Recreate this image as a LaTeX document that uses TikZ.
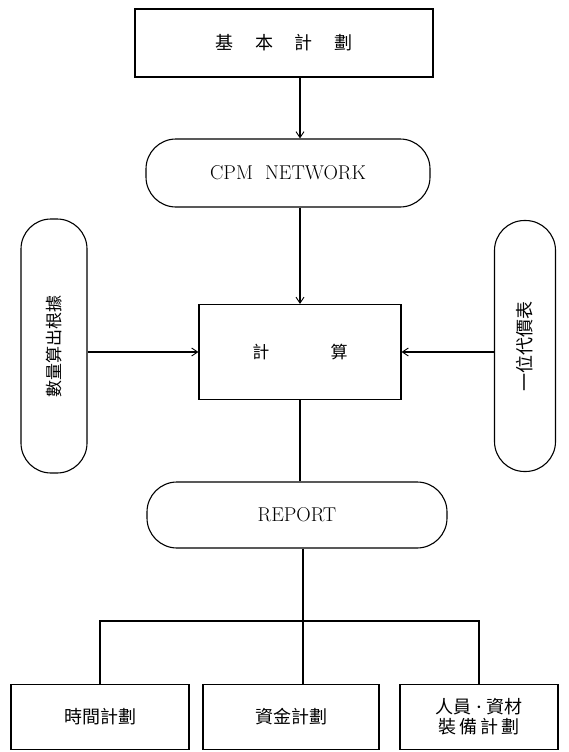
\documentclass[tikz,border=0pt]{standalone}
\usepackage{graphicx}
\usepackage{fontspec}
\newfontfamily\cjk{Noto Sans CJK TC}
\usetikzlibrary{arrows.meta}

\begin{document}
\begin{tikzpicture}[x=1pt,y=-1pt,line width=1.1pt,
    box/.style={draw,rectangle,inner sep=0pt,align=center},
    stadium/.style={draw,rectangle,rounded corners=30pt,inner sep=0pt,align=center},
    arr/.style={-{Straight Barb[length=6pt,width=8pt,line width=0.9pt]}}]
			\tikzstyle{every node}+=[font=\fontsize{18}{22}\selectfont]
			\useasboundingbox (0,0) rectangle (568,752);
			\node[box,minimum width=298pt,minimum height=68pt] (kihon) at (284,43) {\cjk 基\hspace{1.2em}本\hspace{1.2em}計\hspace{1.2em}劃};
			\node[stadium,minimum width=284pt,minimum height=68pt] (cpm) at (288,173) {\fontsize{20}{22}\selectfont CPM\ \ NETWORK};
			\node[box,minimum width=202pt,minimum height=95pt] (calc) at (300,352) {\cjk\fontsize{17}{20}\selectfont 計\hspace{3.6em}算};
			\node[stadium,minimum width=66pt,minimum height=254pt] (qty) at (54,346) {\rotatebox{90}{\cjk\fontsize{17}{20}\selectfont 數量算出根據}};
			\node[stadium,minimum width=61pt,minimum height=251pt] (unit) at (525,346) {\rotatebox{90}{\cjk\fontsize{18}{20}\selectfont 一位代價表}};
			\node[stadium,minimum width=300pt,minimum height=66pt] (report) at (297,515) {\fontsize{20}{22}\selectfont REPORT};
			\node[box,minimum width=178pt,minimum height=65pt] (b1) at (100,717) {\cjk 時間計劃};
			\node[box,minimum width=176pt,minimum height=65pt] (b2) at (291,717) {\cjk 資金計劃};
			\node[box,minimum width=158pt,minimum height=65pt,font=\cjk\fontsize{18}{20}\selectfont] (b3) at (479,717) {人員{\rmfamily\bfseries ·}資材\\ 裝\,備\,計\,劃};
			\coordinate (bus) at (303,621);
			\draw[arr] (kihon.south -| calc.north) -- (cpm.north -| calc.north);
			\draw[arr] (cpm.south -| calc.north) -- (calc.north);
			\draw[arr] (qty.east |- calc.west) -- (calc.west);
			\draw[arr] (unit.west |- calc.east) -- (calc.east);
			\draw (calc.south) -- (report.north -| calc.south);
			\draw (report.south -| bus) -- (bus);
			\draw (b1.north) |- (bus) -| (b3.north);
			\draw (bus) -- (bus |- b2.north);
\end{tikzpicture}
\end{document}
